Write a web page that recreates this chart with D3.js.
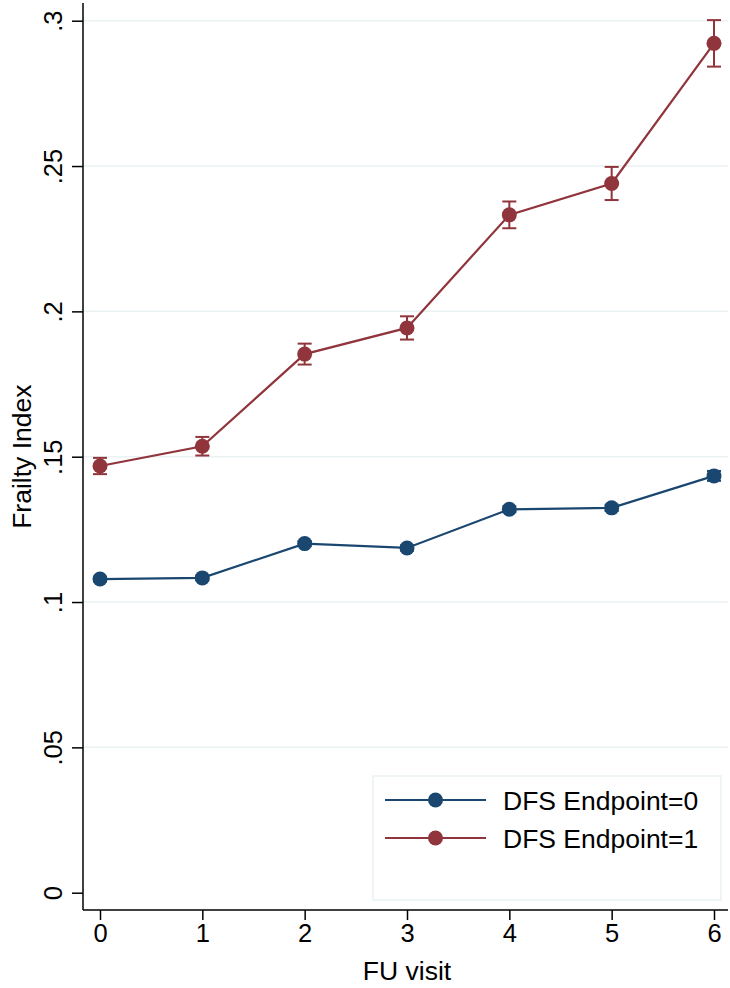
<!DOCTYPE html>
<html><head><meta charset="utf-8">
<script src="https://cdn.jsdelivr.net/npm/d3@7"></script>
<style>body{margin:0;background:#fff}svg{display:block}text{font-family:"Liberation Sans",Arial,sans-serif;fill:#000}</style>
</head><body><svg id="c" width="730" height="988"></svg>
<script>
const visits = [0,1,2,3,4,5,6];
const dfs0 = [0.1079,0.1083,0.1201,0.1186,0.1319,0.1324,0.1434];
const dfs0Err = [0.0008,0.0008,0.0009,0.0009,0.0010,0.0011,0.0017];
const dfs1 = [0.1468,0.1536,0.1853,0.1943,0.2332,0.2440,0.2922];
const dfs1Err = [0.0028,0.0032,0.0036,0.0040,0.0046,0.0057,0.0080];
const yTicks = [0,0.05,0.1,0.15,0.2,0.25,0.3];
const yTickLabels = ["0",".05",".1",".15",".2",".25",".3"];
const seriesNames = ["DFS Endpoint=0","DFS Endpoint=1"];
const colors = ["#1a476f","#90353b"];

const svg = d3.select("#c");
const x = d3.scaleLinear().domain([0,6]).range([100,714]);
const y = d3.scaleLinear().domain([0,0.3]).range([892.7,20.7]);
const pL=83, pR=728, pT=3, pB=910;

// gridlines
svg.append("g").selectAll("line").data(yTicks.filter(d=>d>0)).join("line")
  .attr("x1",pL).attr("x2",pR).attr("y1",d=>y(d)).attr("y2",d=>y(d))
  .attr("stroke","#eaf2f3").attr("stroke-width",1.5);

// axes
const yAxis = svg.append("g").attr("transform",`translate(${pL},0)`)
  .call(d3.axisLeft(y).tickValues(yTicks).tickFormat((d,i)=>yTickLabels[i]).tickSize(11).tickSizeOuter(0));
yAxis.select(".domain").remove();
yAxis.append("line").attr("x1",0).attr("x2",0).attr("y1",pT).attr("y2",pB).attr("stroke","#000").attr("stroke-width",1.5);
yAxis.selectAll(".tick line").attr("stroke","#000").attr("stroke-width",1.5);
yAxis.selectAll(".tick text").attr("font-size",25.5).attr("font-family","Liberation Sans, Arial, sans-serif")
  .attr("transform","rotate(-90)").attr("x",0).attr("y",-21).attr("dy","0").attr("text-anchor","middle").attr("fill","#000");

const xAxis = svg.append("g").attr("transform",`translate(0,${pB})`)
  .call(d3.axisBottom(x).tickValues(visits).tickFormat(d3.format("d")).tickSize(10).tickSizeOuter(0));
xAxis.select(".domain").remove();
xAxis.append("line").attr("x1",pL).attr("x2",pR).attr("y1",0).attr("y2",0).attr("stroke","#000").attr("stroke-width",1.5);
xAxis.selectAll(".tick line").attr("stroke","#000").attr("stroke-width",1.5);
xAxis.selectAll(".tick text").attr("font-size",25.5).attr("font-family","Liberation Sans, Arial, sans-serif")
  .attr("y",14).attr("dy","0.71em").attr("fill","#000");

// titles
svg.append("text").attr("x",407).attr("y",980).attr("text-anchor","middle").attr("font-size",26.5).text("FU visit");
svg.append("text").attr("transform",`translate(31,456.7) rotate(-90)`).attr("text-anchor","middle").attr("font-size",26.5).text("Frailty Index");

// series
const series = [{v:dfs0,e:dfs0Err,c:colors[0]},{v:dfs1,e:dfs1Err,c:colors[1]}];
const line = d3.line().x((d,i)=>x(visits[i])).y(d=>y(d));
series.forEach(s=>{
  const g = svg.append("g");
  g.append("path").datum(s.v).attr("d",line).attr("fill","none").attr("stroke",s.c).attr("stroke-width",2.2);
  const eb = g.selectAll(".eb").data(s.v).join("g");
  eb.append("line").attr("x1",(d,i)=>x(visits[i])).attr("x2",(d,i)=>x(visits[i]))
    .attr("y1",(d,i)=>y(d+s.e[i])).attr("y2",(d,i)=>y(d-s.e[i])).attr("stroke",s.c).attr("stroke-width",2);
  [1,-1].forEach(sg=>{
    eb.append("line").attr("x1",(d,i)=>x(visits[i])-7).attr("x2",(d,i)=>x(visits[i])+7)
      .attr("y1",(d,i)=>y(d+sg*s.e[i])).attr("y2",(d,i)=>y(d+sg*s.e[i])).attr("stroke",s.c).attr("stroke-width",2);
  });
  g.selectAll("circle").data(s.v).join("circle").attr("cx",(d,i)=>x(visits[i])).attr("cy",d=>y(d))
    .attr("r",7.5).attr("fill",s.c);
});

// legend
const lg = svg.append("g");
lg.append("rect").attr("x",373).attr("y",776).attr("width",348).attr("height",124)
  .attr("fill","#fff").attr("stroke","#eaf2f3").attr("stroke-width",1.5);
seriesNames.forEach((n,i)=>{
  const yy = 800 + i*38;
  lg.append("line").attr("x1",385).attr("x2",486).attr("y1",yy).attr("y2",yy).attr("stroke",colors[i]).attr("stroke-width",2.2);
  lg.append("circle").attr("cx",435.5).attr("cy",yy).attr("r",7.5).attr("fill",colors[i]);
  lg.append("text").attr("x",503).attr("y",yy).attr("dy","0.36em").attr("font-size",26.5).text(n);
});
</script></body></html>
